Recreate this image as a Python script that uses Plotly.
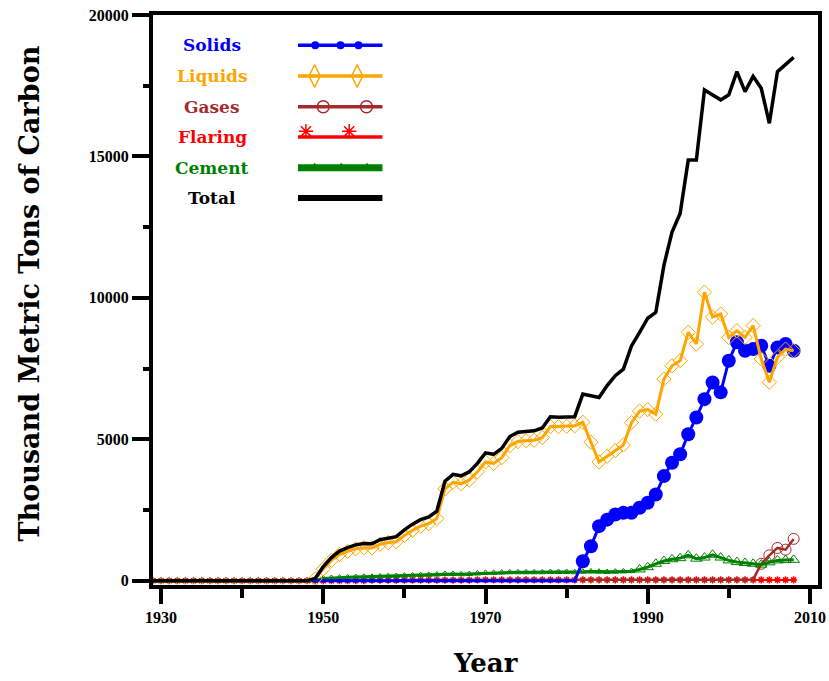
import plotly.graph_objects as go

years = list(range(1929, 2009))

solids = [0, 0, 0, 0, 0, 0, 0, 0, 0, 0,
          0, 0, 0, 0, 0, 0, 0, 0, 0, 0,
          0, 0, 0, 0, 0, 0, 0, 0, 0, 0,
          0, 0, 0, 0, 0, 0, 0, 0, 0, 0,
          0, 0, 0, 0, 0, 0, 0, 0, 0, 0,
          0, 0, 0, 690, 1220, 1930, 2160, 2340, 2400, 2400,
          2580, 2760, 3050, 3700, 4170, 4470, 5180, 5770, 6420, 7010,
          6660, 7780, 8430, 8130, 8190, 8310, 7600, 8250, 8370, 8130]

liquids = [0, 0, 0, 0, 0, 0, 0, 0, 0, 0,
           0, 0, 0, 0, 0, 0, 0, 0, 0, 0,
           70, 420, 720, 930, 1040, 1130, 1170, 1160, 1290, 1350,
           1380, 1600, 1780, 1930, 2020, 2200, 3250, 3480, 3430, 3560,
           3850, 4200, 4150, 4350, 4780, 4920, 4950, 4970, 5060, 5450,
           5450, 5460, 5480, 5600, 4900, 4200, 4400, 4600, 4800, 5590,
           6000, 6050, 5890, 7130, 7600, 7780, 8780, 8370, 10200, 9320,
           9430, 8600, 8840, 8600, 9020, 7840, 7020, 7900, 8190, 8130]

gases = [0, 0, 0, 0, 0, 0, 0, 0, 0, 0,
         0, 0, 0, 0, 0, 0, 0, 0, 0, 0,
         0, 0, 0, 0, 0, 0, 0, 0, 0, 0,
         0, 30, 30, 30, 30, 30, 30, 30, 30, 30,
         30, 30, 30, 30, 30, 30, 30, 30, 30, 30,
         30, 30, 30, 30, 30, 30, 30, 30, 30, 30,
         30, 30, 30, 30, 30, 30, 30, 30, 30, 30,
         30, 30, 30, 30, 40, 600, 900, 1160, 1100, 1480]

flaring = [0, 0, 0, 0, 0, 0, 0, 0, 0, 0,
           0, 0, 0, 0, 0, 0, 0, 0, 0, 0,
           0, 0, 0, 0, 0, 0, 0, 20, 20, 20,
           20, 20, 20, 20, 20, 20, 20, 20, 20, 20,
           30, 30, 30, 30, 30, 30, 30, 30, 30, 30,
           30, 30, 30, 30, 30, 30, 30, 30, 30, 30,
           30, 30, 30, 30, 30, 30, 30, 30, 30, 30,
           30, 30, 30, 30, 30, 30, 30, 30, 30, 30]

cement = [0, 0, 0, 0, 0, 0, 0, 0, 0, 0,
          0, 0, 0, 0, 0, 0, 0, 0, 0, 0,
          10, 80, 100, 110, 120, 130, 140, 140, 150, 160,
          170, 180, 190, 200, 210, 220, 240, 240, 230, 240,
          260, 280, 280, 290, 300, 300, 300, 300, 300, 310,
          310, 310, 300, 320, 330, 320, 310, 320, 330, 340,
          400, 480, 600, 700, 760, 800, 900, 780, 820, 920,
          820, 720, 660, 630, 600, 570, 650, 720, 730, 740]

total = [0, 0, 0, 0, 0, 0, 0, 0, 0, 0,
         0, 0, 0, 0, 0, 0, 0, 0, 0, 0,
         80, 500, 820, 1050, 1170, 1270, 1320, 1310, 1450, 1520,
         1560, 1800, 2000, 2160, 2260, 2460, 3520, 3760, 3710, 3850,
         4150, 4520, 4470, 4680, 5100, 5250, 5280, 5300, 5400, 5800,
         5780, 5800, 5800, 6600, 6550, 6480, 6900, 7250, 7480, 8300,
         8780, 9280, 9490, 11150, 12330, 12980, 14870, 14870, 17350, 17170,
         17000, 17180, 18000, 17290, 17830, 17410, 16170, 18000, 18240, 18500]

series_names = ["Solids", "Liquids", "Gases", "Flaring", "Cement", "Total"]
x_ticks = [1930, 1950, 1970, 1990, 2010]
x_ticktext = ["1930", "1950", "1970", "1990", "2010"]
y_ticks = [0, 5000, 10000, 15000, 20000]
y_ticktext = ["0", "5000", "10000", "15000", "20000"]

BLUE = "#0000FF"
ORANGE = "#FFA500"
BROWN = "#A52A2A"
RED = "#FF0000"
GREEN = "#008000"
BLACK = "#000000"


def sizes(vals, big, small, thresh=0):
    return [big if v > thresh else small for v in vals]


fig = go.Figure()

fig.add_trace(go.Scatter(
    x=years, y=flaring, mode="lines+markers", name="Flaring",
    line=dict(color=RED, width=2),
    marker=dict(symbol="asterisk-open", size=6, opacity=1,
                line=dict(color=RED, width=1.5)),
))
fig.add_trace(go.Scatter(
    x=years, y=gases, mode="lines+markers", name="Gases",
    line=dict(color=BROWN, width=2.5),
    marker=dict(symbol="circle-open", size=sizes(gases, 11, 4, 100), opacity=1,
                line=dict(color=BROWN, width=1)),
))
fig.add_trace(go.Scatter(
    x=years, y=cement, mode="lines+markers", name="Cement",
    line=dict(color=GREEN, width=3),
    marker=dict(symbol="triangle-up-open", size=sizes(cement, 10, 6, 380),
                opacity=1, line=dict(color=GREEN, width=1)),
))
fig.add_trace(go.Scatter(
    x=years, y=solids, mode="lines+markers", name="Solids",
    line=dict(color=BLUE, width=3),
    marker=dict(symbol="circle", size=sizes(solids, 14, 4), color=BLUE,
                opacity=1, line=dict(width=0)),
))
fig.add_trace(go.Scatter(
    x=years, y=liquids, mode="lines+markers", name="Liquids",
    line=dict(color=ORANGE, width=3),
    marker=dict(symbol="diamond-open", size=sizes(liquids, 11, 4), opacity=1,
                line=dict(color=ORANGE, width=1)),
))
fig.add_trace(go.Scatter(
    x=years, y=total, mode="lines", name="Total",
    line=dict(color=BLACK, width=3.5),
))

# ---- custom legend (label left, sample right) on an overlay axis ----
leg_y = [0.947, 0.893, 0.839, 0.786, 0.732, 0.679]
leg_x0, leg_x1 = 0.218, 0.345
leg_colors = [BLUE, ORANGE, BROWN, RED, GREEN, BLACK]
leg_widths = [3.5, 3.5, 3.5, 3.5, 7, 6]
leg_marker_x = [[0.244, 0.282, 0.309], [0.243, 0.307], [0.256, 0.321],
                [0.230, 0.295], [0.243, 0.283, 0.322], []]
leg_symbols = ["circle", "diamond-tall-open", "circle-open", "asterisk-open",
               "triangle-up", None]
leg_msize = [8, 16, 12, 12, 10, 0]

for i, name in enumerate(series_names):
    fig.add_trace(go.Scatter(
        x=[leg_x0, leg_x1], y=[leg_y[i], leg_y[i]], mode="lines",
        line=dict(color=leg_colors[i], width=leg_widths[i]),
        xaxis="x2", yaxis="y2", showlegend=False, hoverinfo="skip",
    ))
    if leg_marker_x[i]:
        my = leg_y[i] + (0.01 if name == "Flaring" else 0)
        mk = dict(symbol=leg_symbols[i], size=leg_msize[i], color=leg_colors[i])
        if leg_symbols[i].endswith("open"):
            mk["line"] = dict(color=leg_colors[i], width=1.5)
        fig.add_trace(go.Scatter(
            x=leg_marker_x[i], y=[my] * len(leg_marker_x[i]), mode="markers",
            marker=mk, xaxis="x2", yaxis="y2", showlegend=False, hoverinfo="skip",
        ))
    fig.add_annotation(
        x=0.089, y=leg_y[i], xref="paper", yref="paper",
        text="<b>" + name + "</b>",
        showarrow=False, xanchor="center", yanchor="middle",
        font=dict(family="DejaVu Serif", size=17, color=leg_colors[i]),
    )

axis_common = dict(
    showgrid=False, zeroline=False, showline=True, linecolor="black",
    linewidth=4, mirror=True, ticks="outside", tickcolor="black",
    tickwidth=4, automargin=False, ticklabeloverflow="allow",
    tickfont=dict(family="Liberation Serif", size=16, color="black",
                  weight="bold"),
)

fig.update_layout(
    template="none",
    width=829, height=681,
    margin=dict(l=153, r=11, t=15, b=96, autoexpand=False),
    paper_bgcolor="white", plot_bgcolor="white",
    showlegend=False,
    xaxis=dict(range=[1929, 2011], tickvals=x_ticks, ticktext=x_ticktext,
               ticklen=15,
               minor=dict(dtick=10, tick0=1930, ticklen=9, tickwidth=4,
                          tickcolor="black", ticks="outside"),
               **axis_common),
    yaxis=dict(range=[-150, 20000], tickvals=y_ticks, ticktext=y_ticktext,
               ticklen=17,
               minor=dict(dtick=2500, tick0=0, ticklen=6, tickwidth=4,
                          tickcolor="black", ticks="outside"),
               **axis_common),
    xaxis2=dict(domain=[0, 1], range=[0, 1], overlaying="x", anchor="y2",
                visible=False, fixedrange=True),
    yaxis2=dict(domain=[0, 1], range=[0, 1], overlaying="y", anchor="x2",
                visible=False, fixedrange=True),
    annotations=list(fig.layout.annotations) + [
        dict(text="<b>Year</b>", x=0.5, y=-0.137, xref="paper", yref="paper",
             showarrow=False, xanchor="center", yanchor="middle",
             font=dict(family="DejaVu Serif", size=26, color="black")),
        dict(text="<b>Thousand Metric Tons of Carbon</b>", x=-0.186, y=0.512,
             xref="paper", yref="paper", showarrow=False, textangle=-90,
             xanchor="center", yanchor="middle",
             font=dict(family="DejaVu Serif", size=27, color="black")),
    ],
)

fig.write_html(
    "out.html",
    config={"displayModeBar": False},
    post_script="document.body.style.margin='0';document.body.style.overflow='hidden';",
)
